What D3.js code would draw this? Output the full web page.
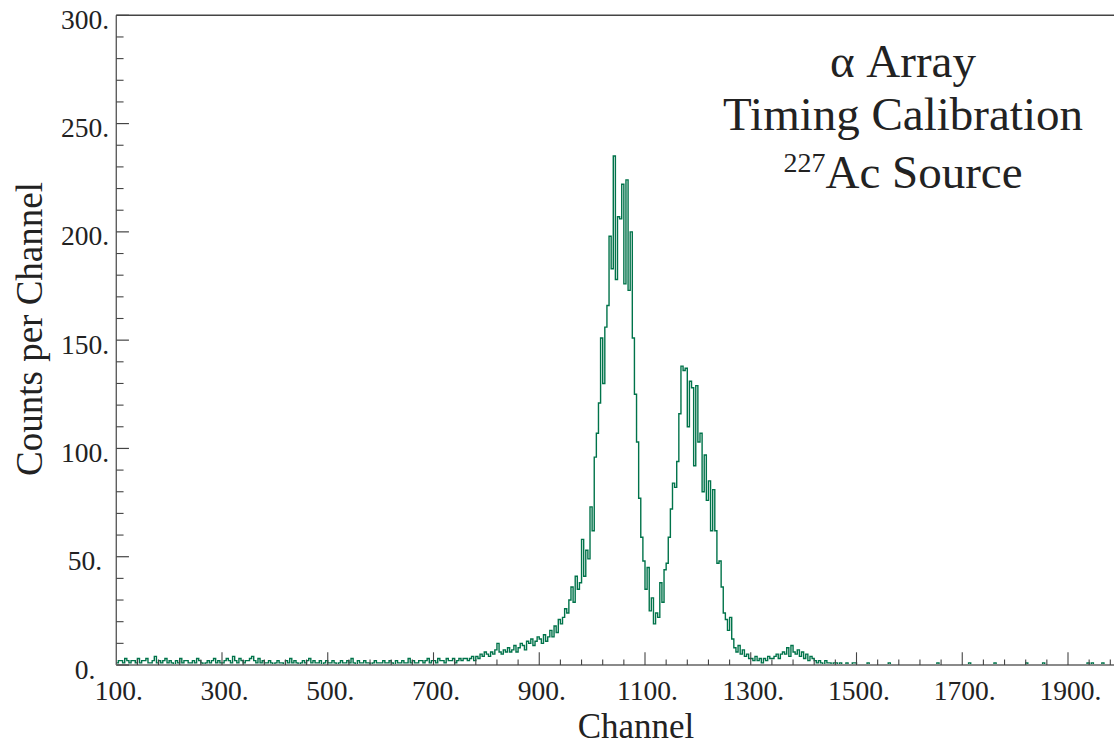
<!DOCTYPE html>
<html>
<head>
<meta charset="utf-8">
<script src="https://cdn.jsdelivr.net/npm/d3@7"></script>
<style>
  html, body { margin: 0; padding: 0; background: #fff; }
  svg { display: block; }
  text { font-family: "Liberation Serif", "DejaVu Serif", serif; fill: #222; }
</style>
</head>
<body>
<svg id="chart" width="1114" height="750"></svg>
<script>
// ---- Histogram definition (channels) ----
const channelStart = 100;
const channelEnd = 2000;
const binWidth = 4;

// counts per 4-channel bin, channels 100-700
const countsLow = [
  1,2,2,1,3,2,1,2,2,1,3,1,2,2,3,1,1,2,4,1,2,1,2,3,1,
  2,1,0,2,1,3,1,2,2,1,1,2,1,3,2,1,0,1,2,1,2,3,1,2,1,
  1,2,3,2,1,4,2,1,3,2,1,2,2,3,4,2,1,3,1,2,1,1,2,1,0,
  1,2,1,1,0,2,1,3,1,2,1,0,1,2,1,2,3,1,2,1,1,2,0,1,2,
  1,1,2,1,0,1,2,1,1,2,1,3,1,0,2,1,1,2,1,1,0,1,2,1,1,
  1,2,1,1,2,1,0,2,1,1,2,1,1,3,1,2,1,1,2,2,1,2,3,1,2
];
// channels 700-940
const countsRise = [
  2,1,3,2,2,1,3,2,2,3,1,2,3,2,3,
  3,2,3,4,2,4,3,5,4,6,
  5,4,6,5,7,10,6,5,7,6,
  8,6,7,9,6,8,10,9,7,11,
  10,12,9,11,13,12,10,14,11,13,
  16,13,18,15,21
];
// channels 940-1300 (two alpha peaks)
const countsPeaks = [
  19,22,26,24,30,36,29,41,35,38,58,41,53,49,73,
  62,96,107,121,151,130,156,166,198,183,235,178,207,206,222,176,224,173,200,151,125,103,77,59,48,
  35,45,25,31,19,24,22,38,29,44,47,59,72,84,82,94,116,138,136,137,110,131,128,92,129,
  103,107,80,97,76,85,62,81,62,47,48,36,24,21,16,22,12,8,6,9,5,7,4,5,3
];
// channels 1300-1500
const countsTail = [
  3,2,4,2,3,1,3,2,4,3,
  3,4,5,3,5,
  6,5,8,4,9,6,5,7,4,6,
  3,5,2,4,3,
  2,1,2,1,0,2,1,1,0,1,
  1,0,1,0,0,1,0,0,1,1
];
// channels 1500-2000
const countsHigh = [
  0,0,0,0,0,1,0,0,0,0,0,0,0,0,0,1,0,0,0,0,0,0,0,0,0,
  0,0,0,0,0,0,0,0,0,0,0,0,0,1,0,0,0,0,0,0,0,0,0,0,0,
  0,0,0,1,0,0,0,0,0,0,0,0,0,0,0,1,0,0,0,0,0,0,0,0,0,
  0,0,0,0,0,1,0,0,0,0,0,0,0,1,0,0,0,0,0,0,0,0,0,0,0,
  0,0,0,0,0,0,0,0,0,1,0,1,0,0,0,0,1,0,0,0,0,0,0,0,0
];

const xMajorTicks = [100, 300, 500, 700, 900, 1100, 1300, 1500, 1700, 1900];
const yMajorTicks = [0, 50, 100, 150, 200, 250, 300];
const titleLines = ["\u03b1 Array", "Timing Calibration"];
const xTitle = "Channel";
const yTitle = "Counts per Channel";

// ---- Layout ----
const svg = d3.select("#chart");
const W = 1114, H = 750;
const plot = { left: 116.25, top: 15.3, bottom: 665 };
const pxPerChannel = 0.52875;

const x = d3.scaleLinear()
  .domain([channelStart, channelEnd])
  .range([plot.left, plot.left + (channelEnd - channelStart) * pxPerChannel]);
const y = d3.scaleLinear().domain([0, 300]).range([plot.bottom, plot.top]);

svg.append("rect").attr("width", W).attr("height", H).attr("fill", "#fff");

svg.append("defs").append("clipPath").attr("id", "clip")
  .append("rect")
  .attr("x", plot.left).attr("y", plot.top - 2)
  .attr("width", W - plot.left).attr("height", plot.bottom - plot.top + 4);

// ---- Histogram ----
const counts = [].concat(countsLow, countsRise, countsPeaks, countsTail, countsHigh);
const pts = counts.map((c, i) => [channelStart + i * binWidth, c]);
pts.push([channelStart + counts.length * binWidth, counts[counts.length - 1]]);

const line = d3.line()
  .x(d => x(d[0]))
  .y(d => y(d[1]))
  .curve(d3.curveStepAfter);

svg.append("path")
  .attr("clip-path", "url(#clip)")
  .attr("d", line(pts))
  .attr("fill", "none")
  .attr("stroke", "#00734a")
  .attr("stroke-width", 1.4);

// ---- Axes ----
const axisG = svg.append("g");

// top frame
axisG.append("line")
  .attr("x1", plot.left).attr("x2", W)
  .attr("y1", plot.top).attr("y2", plot.top)
  .attr("stroke", "#444").attr("stroke-width", 1.5);
// left axis
axisG.append("line")
  .attr("x1", plot.left).attr("x2", plot.left)
  .attr("y1", plot.top).attr("y2", plot.bottom)
  .attr("stroke", "#444").attr("stroke-width", 1.2);
// bottom axis
axisG.append("line")
  .attr("x1", plot.left).attr("x2", W)
  .attr("y1", plot.bottom).attr("y2", plot.bottom)
  .attr("stroke", "#8a8a8a").attr("stroke-width", 1.8);

// x ticks (major every 200, minor every 40), pointing up
const xMinor = d3.range(channelStart, channelEnd + 1, 40).filter(v => (v - 100) % 200 !== 0);
axisG.selectAll(".xminor").data(xMinor).enter().append("line")
  .attr("x1", d => x(d)).attr("x2", d => x(d))
  .attr("y1", plot.bottom).attr("y2", plot.bottom - 5.5)
  .attr("stroke", "#444").attr("stroke-width", 1.1);
axisG.selectAll(".xmajor").data(xMajorTicks.slice(1)).enter().append("line")
  .attr("x1", d => x(d)).attr("x2", d => x(d))
  .attr("y1", plot.bottom).attr("y2", plot.bottom - 12.7)
  .attr("stroke", "#444").attr("stroke-width", 1.1);
axisG.selectAll(".xlab").data(xMajorTicks).enter().append("text")
  .attr("x", d => x(d) + 2.5).attr("y", 700)
  .attr("text-anchor", "middle")
  .attr("font-size", 27.5)
  .text(d => d + ".");

// y ticks (major every 50, minor every 10), pointing right
const yMinor = d3.range(0, 301, 10).filter(v => v % 50 !== 0);
axisG.selectAll(".yminor").data(yMinor).enter().append("line")
  .attr("x1", plot.left).attr("x2", plot.left + 7.3)
  .attr("y1", d => y(d)).attr("y2", d => y(d))
  .attr("stroke", "#444").attr("stroke-width", 1.1);
axisG.selectAll(".ymajor").data(yMajorTicks).enter().append("line")
  .attr("x1", plot.left).attr("x2", plot.left + 12.7)
  .attr("y1", d => y(d)).attr("y2", d => y(d))
  .attr("stroke", "#444").attr("stroke-width", 1.2);
axisG.selectAll(".ylab").data(yMajorTicks).enter().append("text")
  .attr("x", 85).attr("y", d => y(d) + 13.5)
  .attr("text-anchor", "middle")
  .attr("font-size", 27.5)
  .text(d => d + ".");

// axis titles
svg.append("text")
  .attr("x", 636).attr("y", 738)
  .attr("text-anchor", "middle")
  .attr("font-size", 35)
  .text(xTitle);
svg.append("text")
  .attr("transform", "translate(42,329) rotate(-90)")
  .attr("text-anchor", "middle")
  .attr("font-size", 37)
  .text(yTitle);

// ---- Title block ----
const titleX = 903;
svg.append("text").attr("x", titleX).attr("y", 77)
  .attr("text-anchor", "middle").attr("font-size", 47).text(titleLines[0]);
svg.append("text").attr("x", titleX).attr("y", 130)
  .attr("text-anchor", "middle").attr("font-size", 47).text(titleLines[1]);
const t3 = svg.append("text").attr("x", titleX).attr("y", 188)
  .attr("text-anchor", "middle").attr("font-size", 47);
t3.append("tspan").attr("font-size", 28).attr("dy", -16).text("227");
t3.append("tspan").attr("dy", 16).text("Ac Source");
</script>
</body>
</html>
